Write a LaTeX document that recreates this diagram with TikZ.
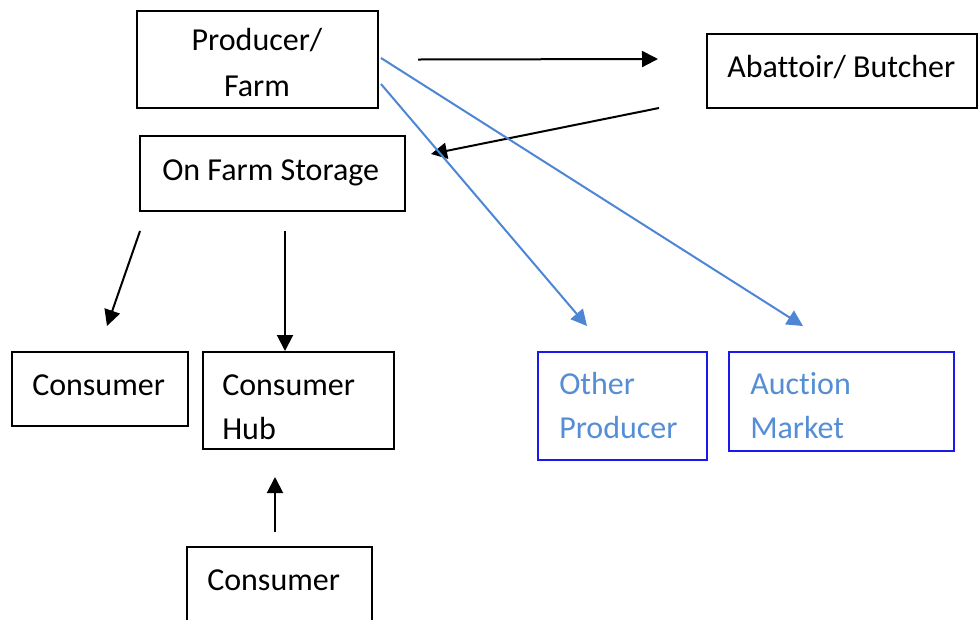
\documentclass[tikz,border=0pt]{standalone}
\usepackage{fontspec}
\setmainfont[RawFeature={-liga;-clig;-calt;-dlig}]{Carlito}
\usetikzlibrary{arrows.meta,calc,fit}
\definecolor{flowblue}{RGB}{76,134,212}
\definecolor{textblue}{RGB}{85,142,213}
\definecolor{edgeblue}{RGB}{25,25,238}
\begin{document}
\begin{tikzpicture}[x=0.75pt,y=-0.75pt,
  box/.style={draw=black, line width=1.5pt, rectangle, inner sep=0pt},
  bluebox/.style={box, draw=edgeblue},
  lbl/.style={font=\fontsize{24}{33.75}\selectfont, inner sep=0pt, anchor=base west},
  clbl/.style={lbl, anchor=base},
  arr/.style={line width=1.5pt, -{Triangle[length=12pt,width=12pt]}},
  bluearr/.style={arr, draw=flowblue, -{Triangle[length=12pt,width=12pt,fill=flowblue]}}
]
\useasboundingbox (0,0) rectangle (978,619);

% boxes
\node[box, fit={(137,11)(378,108)}] (farm) {};
\node[box, fit={(707,34)(977,108)}] (abat) {};
\node[box, fit={(140,136)(405,211)}] (store) {};
\node[box, fit={(12,352)(188,426)}] (cons) {};
\node[box, fit={(203,352)(394,449)}] (hub) {};
\node[bluebox, fit={(538,352)(707,460)}] (other) {};
\node[bluebox, fit={(729,352)(954,451)}] (auction) {};
\node[box, fit={(187,547)(372,660)}] (bcons) {};

% labels
\node[clbl] (farmA) at (257,50) {Producer/};
\node[clbl] (farmB) at (257,96) {Farm};
\node[lbl] (abatT) at (727,77) {Abat{}toir/ Butcher};
\node[lbl] (storeT) at (162,180) {On Farm Storage};
\node[lbl] (consT) at (32,395) {Consumer};
\node[lbl] (hubA) at (222,395) {Consumer};
\node[lbl] (hubB) at (222,439) {Hub};
\node[lbl, text=textblue] (otherA) at (559,394) {Other};
\node[lbl, text=textblue] (otherB) at (559,438) {Producer};
\node[lbl, text=textblue] (auctA) at (750,394) {Auction};
\node[lbl, text=textblue] (auctB) at (750,438) {Market};
\node[lbl] (bconsT) at (207,590) {Consumer};

% black flows
\draw[arr] ($(farm.east)+(39,0)$) -- ($(abat.west)+(-48,-12)$);
\draw[arr] ($(abat.south west)+(-47,-1)$) -- ($(store.north east)+(25,19)$);
\draw[arr] ($(store.south west)+(1,19)$) -- ($(cons.north)+(7,-25)$);
\draw[arr] ($(store.south)+(12.5,19)$) -- ($(hub.north)+(-13.5,0)$);
\draw[arr] ($(bcons.north)+(-4.5,-14)$) -- ($(hub.south)+(-23.5,27)$);

% blue flows
\draw[bluearr] ($(farm.east)+(2,-1.5)$) -- ($(auction.north)+(-38.5,-25)$);
\draw[bluearr] ($(farm.east)+(2,24.5)$) -- ($(other.north)+(-35.5,-25)$);
\end{tikzpicture}
\end{document}
